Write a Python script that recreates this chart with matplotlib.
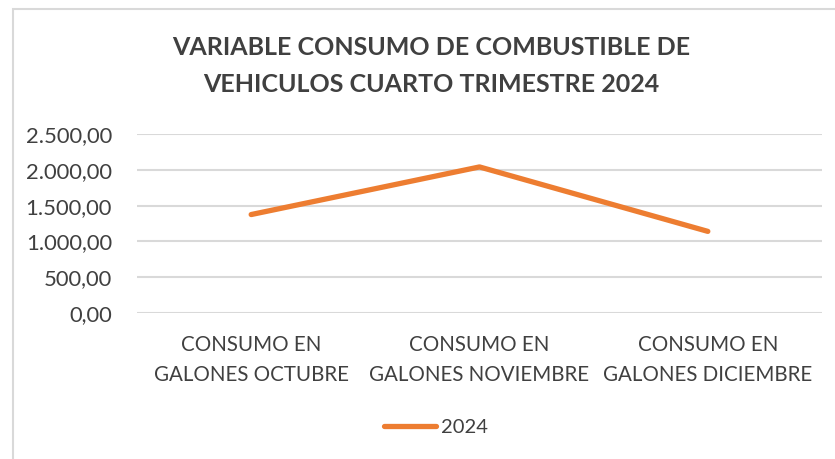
import matplotlib.pyplot as plt
from matplotlib.patches import Rectangle

# DATA ------------------------------------------------------------------------
categorias = ["CONSUMO EN\nGALONES OCTUBRE",
              "CONSUMO EN\nGALONES NOVIEMBRE",
              "CONSUMO EN\nGALONES DICIEMBRE"]
consumo_2024 = [1375, 2040, 1140]
yticks = [0, 500, 1000, 1500, 2000, 2500]
serie = "2024"
titulo = "VARIABLE CONSUMO DE COMBUSTIBLE DE\nVEHICULOS CUARTO TRIMESTRE 2024"

txt = '#404040'
naranja = '#ED7D31'
plt.rcParams['font.family'] = ['Lato', 'DejaVu Sans']

fig = plt.figure(figsize=(8.35, 4.59), dpi=100)
fig.patches.append(Rectangle((13/835, -0.1), 1.1, 1 - 9/459 + 0.1,
                             transform=fig.transFigure, fill=False,
                             edgecolor='#D9D9D9', linewidth=1.5))

ax = fig.add_axes([137/835, 1 - 313/459, (822-137)/835, (313-134)/459])
x = list(range(len(categorias)))
ax.plot(x, consumo_2024, color=naranja, linewidth=3.8,
        solid_capstyle='round', label=serie)
ax.set_xlim(-0.5, len(categorias) - 0.5)
ax.set_ylim(0, 2500)
ax.set_yticks(yticks)
ax.set_yticklabels([f"{v:,.2f}".replace(",", "X").replace(".", ",").replace("X", ".")
                    for v in yticks])
ax.set_xticks(x)
ax.set_xticklabels(categorias, linespacing=1.6, fontsize=14.8)
ax.tick_params(axis='both', length=0, colors=txt)
ax.tick_params(axis='y', pad=18, labelsize=15.8)
ax.tick_params(axis='x', pad=16)
ax.grid(axis='y', color='#D9D9D9', linewidth=1.5)
ax.set_axisbelow(True)
for s in ax.spines.values():
    s.set_visible(False)

fig.text(431/835, 1 - 66/459, titulo, ha='center', va='center',
         fontsize=18.0, fontweight='bold', color=txt, linespacing=1.7)

ax.legend(loc='center', bbox_to_anchor=(436/835, 1 - 427/459),
          bbox_transform=fig.transFigure, frameon=False, fontsize=14.5,
          labelcolor=txt, handlelength=2.6, handletextpad=0.25)

fig.savefig("out.png", dpi=100)
